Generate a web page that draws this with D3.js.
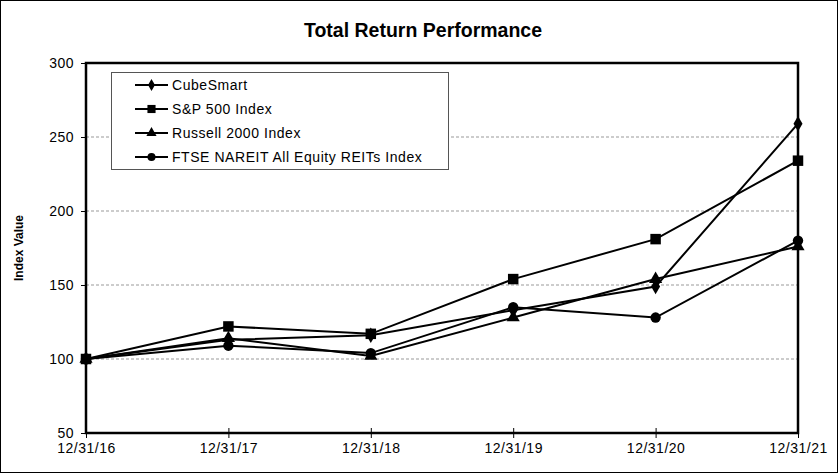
<!DOCTYPE html>
<html>
<head>
<meta charset="utf-8">
<script src="https://cdn.jsdelivr.net/npm/d3@7/dist/d3.min.js"></script>
<style>
  body { margin: 0; background: #fff; }
  svg { display: block; font-family: "Liberation Sans", Arial, sans-serif; }
</style>
</head>
<body>
<div id="chart"></div>
<script>
// Dades llegides del gràfic
const dates = ['12/31/16', '12/31/17', '12/31/18', '12/31/19', '12/31/20', '12/31/21'];
const cubeSmart = [100, 113, 116, 133, 149, 259];
const sp500 = [100, 122, 117, 154, 181, 234];
const russell2000 = [100, 114, 102, 128, 154, 176];
const ftseNareit = [100, 109, 104, 135, 128, 180];
const yTicks = [50, 100, 150, 200, 250, 300];
const gridTicks = [100, 150, 200, 250];

const series = [
    { name: 'CubeSmart', values: cubeSmart, symbol: d3.symbolDiamond, size: 70 },
    { name: 'S&P 500 Index', values: sp500, symbol: d3.symbolSquare, size: 110 },
    { name: 'Russell 2000 Index', values: russell2000, symbol: d3.symbolTriangle, size: 75 },
    { name: 'FTSE NAREIT All Equity REITs Index', values: ftseNareit, symbol: d3.symbolCircle, size: 85 }
];

const width = 838, height = 473;
const margin = { top: 63, right: 40, bottom: 40, left: 86 };

const svg = d3.select('#chart').append('svg')
    .attr('width', width)
    .attr('height', height);

// Vora exterior
svg.append('rect')
    .attr('x', 0.5).attr('y', 0.5)
    .attr('width', width - 1).attr('height', height - 1)
    .attr('fill', 'white').attr('stroke', '#000');

const x = d3.scalePoint()
    .domain(dates)
    .range([margin.left, width - margin.right]);

const y = d3.scaleLinear()
    .domain([50, 300])
    .range([height - margin.bottom, margin.top]);

// Línies de graella
svg.append('g')
    .selectAll('line')
    .data(gridTicks)
    .join('line')
    .attr('x1', margin.left).attr('x2', width - margin.right)
    .attr('y1', d => y(d)).attr('y2', d => y(d))
    .attr('stroke', '#999')
    .attr('stroke-width', 1)
    .attr('stroke-dasharray', '3,2');

// Marc de l'àrea del gràfic
svg.append('rect')
    .attr('x', margin.left).attr('y', margin.top)
    .attr('width', width - margin.right - margin.left)
    .attr('height', height - margin.bottom - margin.top)
    .attr('fill', 'none')
    .attr('stroke', '#000')
    .attr('stroke-width', 2.5);

// Eixos
const yAxis = svg.append('g')
    .attr('transform', `translate(${margin.left},0)`)
    .call(d3.axisLeft(y).tickValues(yTicks).tickSize(5).tickPadding(7));
yAxis.select('.domain').remove();
yAxis.selectAll('text').style('font-size', '14px').style('letter-spacing', '0.5px').attr('fill', '#000');

const xAxis = svg.append('g')
    .attr('transform', `translate(0,${height - margin.bottom})`)
    .call(d3.axisBottom(x).tickSizeInner(-5).tickSizeOuter(0).tickPadding(10));
xAxis.select('.domain').remove();
xAxis.selectAll('.tick line').attr('y1', 5);
xAxis.selectAll('text').style('font-size', '14px').style('letter-spacing', '0.5px').attr('fill', '#000');

// Títols
svg.append('text')
    .attr('x', 423).attr('y', 37)
    .attr('text-anchor', 'middle')
    .style('font-size', '19.5px')
    .style('font-weight', 'bold')
    .text('Total Return Performance');

svg.append('text')
    .attr('transform', 'rotate(-90)')
    .attr('x', -(margin.top + (height - margin.bottom - margin.top) / 2))
    .attr('y', 23)
    .attr('text-anchor', 'middle')
    .style('font-size', '12px')
    .style('font-weight', 'bold')
    .text('Index Value');

// Sèries
const line = d3.line()
    .x((d, i) => x(dates[i]))
    .y(d => y(d));

series.forEach(s => {
    svg.append('path')
        .datum(s.values)
        .attr('fill', 'none')
        .attr('stroke', '#000')
        .attr('stroke-width', 2)
        .attr('d', line);
});

series.forEach(s => {
    svg.append('g')
        .selectAll('path')
        .data(s.values)
        .join('path')
        .attr('transform', (d, i) => `translate(${x(dates[i])},${y(d)})`)
        .attr('d', d3.symbol().type(s.symbol).size(s.size))
        .attr('fill', '#000');
});

// Llegenda
const legend = svg.append('g');
legend.append('rect')
    .attr('x', 111.5).attr('y', 72.5)
    .attr('width', 337).attr('height', 97)
    .attr('fill', 'white')
    .attr('stroke', '#555');

series.forEach((s, i) => {
    const ly = 85 + i * 24;
    legend.append('line')
        .attr('x1', 135).attr('x2', 168)
        .attr('y1', ly).attr('y2', ly)
        .attr('stroke', '#000').attr('stroke-width', 2);
    legend.append('path')
        .attr('transform', `translate(151.5,${ly})`)
        .attr('d', d3.symbol().type(s.symbol).size(s.size * 0.6))
        .attr('fill', '#000');
    legend.append('text')
        .attr('x', 172).attr('y', ly + 5)
        .style('font-size', '14px')
        .style('letter-spacing', '0.55px')
        .text(s.name);
});
</script>
</body>
</html>
